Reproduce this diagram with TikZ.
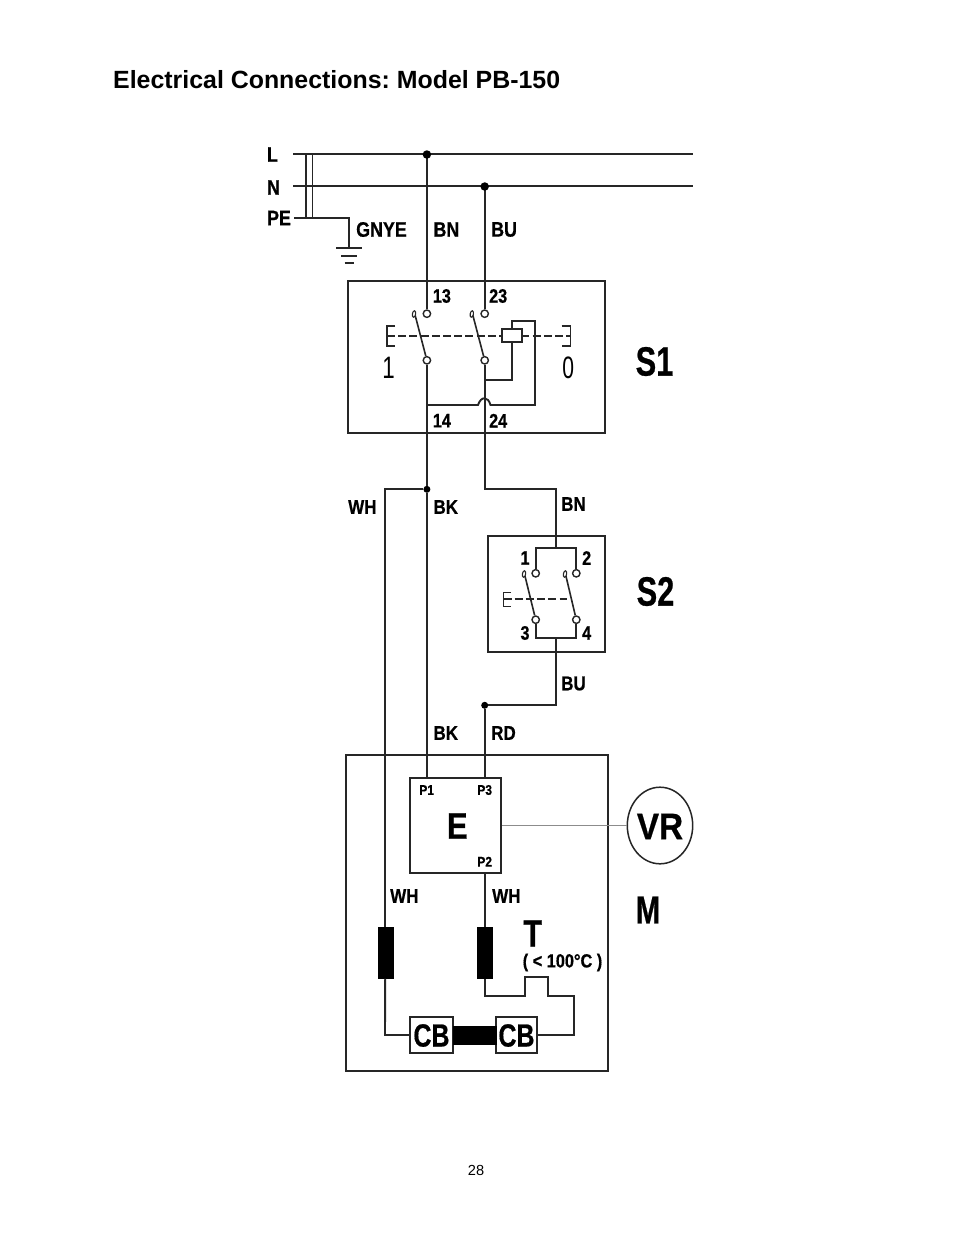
\documentclass[tikz,border=0pt]{standalone}
\usepackage{graphicx}
\usepackage{fontspec}
\setmainfont{Liberation Sans}
\newfontfamily\lbfont[FakeBold=0.7]{Liberation Sans Bold}
\usetikzlibrary{shapes.geometric}
\definecolor{ink}{gray}{0.15}
\newcommand{\lb}[3]{\scalebox{#2}[1]{\fontsize{#1}{#1}\selectfont\lbfont #3}}
\tikzset{
  wire/.style={draw=ink,line width=1.9pt,line join=miter},
  heavy/.style={draw=ink,line width=2pt},
  boxline/.style={draw=ink,line width=2.1pt},
  contact/.style={circle,draw=ink,fill=white,line width=1.4pt,inner sep=0pt,minimum size=7.4pt},
  hook/.style={ellipse,draw=ink,fill=white,line width=1.1pt,inner sep=0pt,minimum width=3.2pt,minimum height=6.6pt,rotate=-10},
  dot/.style={circle,fill=black,inner sep=0pt,minimum size=#1},
  coil/.style={fill=black,draw=black,inner sep=0pt},
  txt/.style={inner sep=0pt,text=black},
  cbbox/.style={draw=ink,fill=white,line width=1.9pt,inner sep=0pt,minimum width=42.5pt,minimum height=35.4pt},
  dashline/.style={draw=ink,line width=1.9pt,dash pattern=on 8pt off 3.2pt}
}
\begin{document}
\begin{tikzpicture}[x=1pt,y=-1pt]
\useasboundingbox[fill=white] (0,0) rectangle (954,1235);

% title & page number
\node[txt,anchor=west] (title) at (113,79.5) {\frenchspacing\fontsize{24.9}{24.9}\selectfont\bfseries Electrical Connections: Model PB-150};
\node[txt] (page) at (476,1170) {\fontsize{14.6}{14.6}\selectfont 28};

% mains
\coordinate (Lw) at (293,154.2); \coordinate (Le) at (693,154.2);
\coordinate (Nw) at (293,186.2); \coordinate (Ne) at (693,186.2);
\coordinate (PEw) at (294,217.7); \coordinate (PEg) at (349,217.7); \coordinate (G0) at (349,248.5);
\coordinate (T1a) at (306,154.5); \coordinate (T1b) at (306,217.7);
\coordinate (T2a) at (312.3,154.5); \coordinate (T2b) at (312.3,217.7);
\draw[heavy] (Lw) -- (Le);
\draw[heavy] (Nw) -- (Ne);
\draw[wire,line width=1.6pt] (T1a) -- (T1b);
\draw[wire,line width=1.6pt] (T2a) -- (T2b);
\draw[wire] (PEw) -- (PEg) -- (G0);
\coordinate (G1a) at (336,248.2); \coordinate (G1b) at (361.5,248.2);
\coordinate (G2a) at (341,256); \coordinate (G2b) at (357,256);
\coordinate (G3a) at (344.5,263); \coordinate (G3b) at (354,263);
\draw[heavy] (G1a) -- (G1b);
\draw[wire] (G2a) -- (G2b);
\draw[wire] (G3a) -- (G3b);

\node[txt] (tL) at (272.5,154.5) {\lb{21}{.85}{L}};
\node[txt] (tN) at (273.5,187.5) {\lb{21}{.85}{N}};
\node[txt] (tPE) at (279,218) {\lb{21}{.85}{PE}};
\node[txt,anchor=west] (tGNYE) at (356,229.5) {\lb{21}{.85}{GNYE}};
\node[txt,anchor=west] (tBN1) at (433.3,229.5) {\lb{21}{.85}{BN}};
\node[txt,anchor=west] (tBU1) at (491,229.5) {\lb{21}{.85}{BU}};

% S1 box
\node[boxline,draw,minimum width=257pt,minimum height=152pt,inner sep=0pt] (S1box) at (476.8,356.7) {};
\node[txt] (tS1) at (654.5,361.5) {\lb{41}{.75}{S1}};

% S1 contacts
\coordinate (JL) at (426.9,154.5);
\coordinate (JN) at (484.7,186.5);
\node[contact] (c13) at (426.9,313.7) {};
\node[contact] (c23) at (484.7,313.7) {};
\node[contact] (c14) at (426.9,360.3) {};
\node[contact] (c24) at (484.7,360.3) {};
\coordinate (m1) at (414.3,312); \coordinate (m2) at (472,312);
\draw[wire,line width=1.6pt] (m1) -- (c14);
\draw[wire,line width=1.6pt] (m2) -- (c24);
\node[hook] (h1) at (414,314) {};
\node[hook] (h2) at (471.8,314) {};
\draw[wire] (JL) -- (c13);
\draw[wire] (JN) -- (c23);
\node[dot=8.5pt] (dL) at (JL) {};
\node[dot=8.5pt] (dN) at (JN) {};

% S1 actuator
\coordinate (bl1) at (395,326); \coordinate (bl2) at (386.7,326); \coordinate (bl3) at (386.7,346); \coordinate (bl4) at (395,346);
\coordinate (br1) at (561.7,326); \coordinate (br2) at (570.3,326); \coordinate (br3) at (570.3,346); \coordinate (br4) at (561.7,346);
\draw[wire,line width=1.6pt] (bl1) -- (bl2) -- (bl3) -- (bl4);
\draw[wire,line width=1.6pt] (br1) -- (br2) -- (br3) -- (br4);
\coordinate (da) at (387,335.7); \coordinate (db) at (570,335.7);
\draw[dashline] (da) -- (db);
\node[draw=ink,fill=white,line width=1.8pt,inner sep=0pt,minimum width=20.6pt,minimum height=13pt] (relay) at (512,335.8) {};
\coordinate (rb) at (512,380); \coordinate (rbj) at (484.7,380);
\draw[draw=ink,line width=2.3pt] (relay.south) -- (rb) -- (rbj);
\coordinate (rt) at (512,321); \coordinate (rr) at (535,321); \coordinate (rd) at (535,405);
\coordinate (h0) at (490.5,405); \coordinate (h3) at (478,405); \coordinate (j14) at (426.9,405);
\draw[wire] (relay.north) -- (rt) -- (rr) -- (rd) -- (h0)
  .. controls (488,396) and (481,396) .. (h3) -- (j14);

\node[txt] (t1) at (388.5,368) {\scalebox{.72}[1]{\fontsize{31}{31}\selectfont 1}};
\node[txt] (t0) at (568.3,368) {\scalebox{.68}[1]{\fontsize{31}{31}\selectfont 0}};
\node[txt,anchor=west] (t13) at (432.7,296) {\lb{19.5}{.83}{13}};
\node[txt,anchor=west] (t23) at (489,296) {\lb{19.5}{.83}{23}};
\node[txt,anchor=west] (t14) at (432.7,420.7) {\lb{19.5}{.83}{14}};
\node[txt,anchor=west] (t24) at (489,420.7) {\lb{19.5}{.83}{24}};

% wires between S1 and S2
\node[dot=7pt] (dBK) at (426.9,489.3) {};
\coordinate (WHt) at (385,489.3);
\coordinate (R1) at (484.7,489.3); \coordinate (R2) at (555.7,489.3); \coordinate (S2t) at (555.7,548.3);

% S2
\node[boxline,draw,minimum width=117.3pt,minimum height=116pt,inner sep=0pt] (S2box) at (546.3,594) {};
\node[contact] (c1) at (535.7,573.3) {};
\node[contact] (c2) at (576.3,573.3) {};
\node[contact] (c3) at (535.7,619.7) {};
\node[contact] (c4) at (576.3,619.7) {};
\coordinate (b1) at (535.7,548.3); \coordinate (b2) at (576.3,548.3);
\coordinate (b3) at (535.7,638.3); \coordinate (b4) at (576.3,638.3);
\draw[wire] (c1) -- (b1) -- (b2) -- (c2);
\draw[wire] (c3) -- (b3) -- (b4) -- (c4);
\coordinate (m3) at (524,572); \coordinate (m4) at (565,572);
\draw[wire,line width=1.6pt] (m3) -- (c3);
\draw[wire,line width=1.6pt] (m4) -- (c4);
\node[hook] (h3n) at (524,574) {};
\node[hook] (h4n) at (565,574) {};
\coordinate (e1) at (511,592.3); \coordinate (e2) at (503.3,592.3); \coordinate (e3) at (503.3,606.7); \coordinate (e4) at (511,606.7);
\draw[line width=1.3pt,draw=ink] (e1) -- (e2) -- (e3) -- (e4);
\coordinate (ed1) at (503.5,599); \coordinate (ed2) at (567,599);
\draw[dashline,line width=2pt] (ed1) -- (ed2);

\node[txt] (t1s) at (525,558) {\lb{19.5}{.83}{1}};
\node[txt] (t2s) at (586.7,558) {\lb{19.5}{.83}{2}};
\node[txt] (t3s) at (525,633) {\lb{19.5}{.83}{3}};
\node[txt] (t4s) at (586.7,633) {\lb{19.5}{.83}{4}};
\node[txt] (tS2) at (655.5,591.5) {\lb{41}{.75}{S2}};

\coordinate (S2b) at (555.7,638.3); \coordinate (B1) at (555.7,705.3);
\node[dot=7pt] (dRD) at (484.7,705.3) {};

% M box
\node[boxline,draw,minimum width=262.3pt,minimum height=316pt,inner sep=0pt] (Mbox) at (477.2,913) {};
\node[draw=ink,line width=1.8pt,inner sep=0pt,minimum width=91pt,minimum height=94.4pt] (Ebox) at (455.8,825.5) {};
\node[txt] (tE) at (457.3,826) {\lb{37}{.84}{E}};
\node[txt] (tP1) at (426.7,790) {\lb{14}{.85}{P1}};
\node[txt] (tP3) at (484.7,790) {\lb{14}{.85}{P3}};
\node[txt] (tP2) at (484.7,861.7) {\lb{14}{.85}{P2}};

% VR
\node[ellipse,draw=ink,line width=1.5pt,inner sep=0pt,minimum width=65.4pt,minimum height=76.6pt] (VR) at (660,825.5) {};
\node[txt] (tVR) at (660,826.5) {\lb{37}{.9}{VR}};
\draw[draw=black!45,line width=1.2pt] (Ebox.east) -- (VR.west);
\node[txt] (tM) at (648,910) {\lb{39}{.75}{M}};

% coils
\node[coil,minimum width=15pt,minimum height=51.6pt] (coilL) at (385.2,952.5) {};
\node[coil,minimum width=14.7pt,minimum height=51.6pt] (coilR) at (484.7,952.5) {};

% CB
\node[cbbox] (cb1) at (431.3,1035) {};
\node[cbbox,minimum width=41.6pt] (cb2) at (516.5,1035) {};
\node[coil,minimum width=43pt,minimum height=18pt] (bar) at (474.2,1035) {};
\node[txt] (tcb1) at (431.5,1035.5) {\lb{32}{.78}{CB}};
\node[txt] (tcb2) at (516.5,1035.5) {\lb{32}{.78}{CB}};

% long wires
\coordinate (P1) at (426.9,778.3);
\coordinate (P3) at (484.7,778.3);
\draw[wire] (c14) -- (dBK) -- (P1);
\draw[wire] (c24) -- (R1) -- (R2) -- (S2t);
\draw[wire] (S2b) -- (B1) -- (dRD) -- (P3);
\draw[wire] (dBK) -- (WHt) -- (coilL.north -| WHt);
\coordinate (cl1) at (385,1035);
\draw[wire] (coilL.south) -- (cl1) -- (cb1.west);
\coordinate (E2) at (484.7,872.7);
\draw[wire] (E2) -- (coilR.north);
\coordinate (th1) at (484.7,995.7); \coordinate (th2) at (524.7,995.7); \coordinate (th3) at (524.7,976.7);
\coordinate (th4) at (548.3,976.7); \coordinate (th5) at (548.3,995.7); \coordinate (th6) at (574,995.7); \coordinate (th7) at (574,1035);
\draw[wire] (coilR.south) -- (th1) -- (th2) -- (th3) -- (th4) -- (th5) -- (th6) -- (th7) -- (cb2.east);

% labels
\node[txt,anchor=west] (tWH1) at (348,507) {\lb{20}{.85}{WH}};
\node[txt,anchor=west] (tBK1) at (433.3,507) {\lb{20}{.85}{BK}};
\node[txt,anchor=west] (tBN2) at (561,504) {\lb{20}{.85}{BN}};
\node[txt,anchor=west] (tBU2) at (561,683.5) {\lb{20}{.85}{BU}};
\node[txt,anchor=west] (tBK2) at (433.3,733) {\lb{20}{.85}{BK}};
\node[txt,anchor=west] (tRD) at (491,733) {\lb{20}{.85}{RD}};
\node[txt,anchor=west] (tWH2) at (390,896) {\lb{20}{.85}{WH}};
\node[txt,anchor=west] (tWH3) at (492,896) {\lb{20}{.85}{WH}};
\node[txt] (tT) at (532.7,933.5) {\lb{38}{.8}{T}};
\node[txt] (tTl) at (562.5,962.5) {\lb{19}{.86}{( < 100°C )}};
\end{tikzpicture}
\end{document}
